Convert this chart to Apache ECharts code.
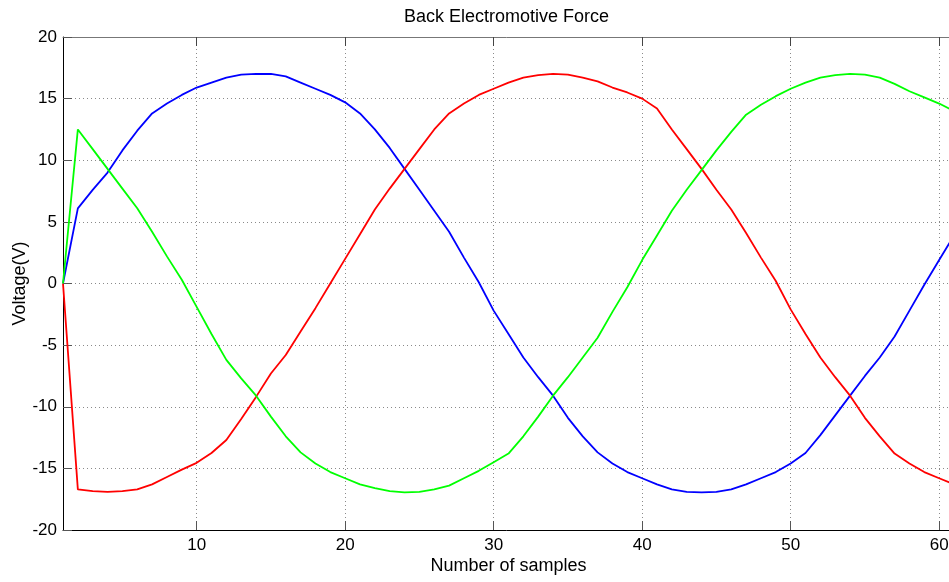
<!DOCTYPE html>
<html>
<head>
<meta charset="utf-8">
<script src="https://cdn.jsdelivr.net/npm/echarts@6/dist/echarts.min.js"></script>
<style>
html,body{margin:0;padding:0;background:#fff;}
#chart{width:949px;height:582px;}
</style>
</head>
<body>
<div id="chart"></div>
<script>
const samples = [];
for (let i = 1; i <= 61; i++) samples.push(i);

const blueValues = [0, 6.1, 7.6, 9.0, 10.8, 12.4, 13.8, 14.6, 15.3, 15.9,
  16.3, 16.7, 16.95, 17.0, 17.0, 16.8, 16.3, 15.8, 15.3, 14.7,
  13.8, 12.5, 11.0, 9.3, 7.6, 5.9, 4.2, 2.1, 0.1, -2.2,
  -4.1, -6.0, -7.6, -9.1, -10.9, -12.4, -13.7, -14.6, -15.3, -15.8,
  -16.3, -16.7, -16.9, -16.95, -16.9, -16.7, -16.3, -15.8, -15.3, -14.6,
  -13.75, -12.3, -10.7, -9.1, -7.5, -6.0, -4.3, -2.2, -0.1, 1.9, 3.9];

const redValues = [0, -16.7, -16.85, -16.9, -16.85, -16.7, -16.3, -15.7, -15.1, -14.55,
  -13.75, -12.7, -11.0, -9.2, -7.3, -5.8, -3.9, -2.0, 0.0, 2.0,
  4.0, 6.0, 7.7, 9.3, 10.9, 12.5, 13.8, 14.6, 15.3, 15.8,
  16.3, 16.7, 16.9, 17.0, 16.95, 16.7, 16.4, 15.9, 15.5, 15.0,
  14.2, 12.5, 10.9, 9.3, 7.6, 6.0, 4.1, 2.1, 0.2, -2.1,
  -4.1, -6.0, -7.6, -9.1, -10.9, -12.4, -13.8, -14.6, -15.3, -15.8, -16.3];

const greenValues = [0, 12.5, 10.9, 9.3, 7.7, 6.1, 4.2, 2.2, 0.3, -1.9,
  -4.1, -6.2, -7.7, -9.1, -10.8, -12.4, -13.7, -14.6, -15.3, -15.8,
  -16.3, -16.6, -16.85, -16.95, -16.9, -16.7, -16.4, -15.8, -15.2, -14.5,
  -13.8, -12.4, -10.8, -9.1, -7.6, -6.0, -4.4, -2.3, -0.3, 1.9,
  3.9, 5.9, 7.6, 9.2, 10.8, 12.3, 13.7, 14.5, 15.2, 15.8,
  16.3, 16.7, 16.9, 17.0, 16.95, 16.7, 16.2, 15.6, 15.1, 14.6, 14.0];

const xTicks = [10, 20, 30, 40, 50, 60];
const yTicks = [-20, -15, -10, -5, 0, 5, 10, 15, 20];

const titleText = 'Back Electromotive Force';
const xName = 'Number of samples';
const yName = 'Voltage(V)';

const FONT = 'Liberation Sans, Arial, Helvetica, sans-serif';

function pairs(vals) { return samples.map((s, i) => [s, vals[i]]); }

const chart = echarts.init(document.getElementById('chart'), null, {renderer: 'canvas'});
const dotted = {color: '#8a8a8a', width: 1, type: [1, 3]};

const option = {
  backgroundColor: '#ffffff',
  animation: false,
  title: {
    text: titleText,
    left: 399, top: 3,
    textStyle: {fontFamily: FONT, fontSize: 18, fontWeight: 'normal', color: '#000'}
  },
  grid: {left: 63, right: -5, top: 37, bottom: 52, containLabel: false, outerBoundsMode: 'none'},
  xAxis: [{
    type: 'value', min: 1, max: 61, position: 'bottom',
    name: xName, nameLocation: 'middle', nameGap: 27, nameMoveOverlap: false,
    nameTextStyle: {fontFamily: FONT, fontSize: 18, color: '#000'},
    axisLine: {show: true, onZero: false, lineStyle: {color: '#000', width: 1}},
    axisTick: {show: true, inside: true, length: 9, customValues: xTicks, lineStyle: {color: '#555'}},
    axisLabel: {show: true, customValues: xTicks, margin: 7, fontFamily: FONT, fontSize: 17, color: '#000'},
    splitLine: {show: true, lineStyle: dotted}
  }, {
    type: 'value', min: 1, max: 61, position: 'top',
    axisLine: {show: true, onZero: false, lineStyle: {color: '#777', width: 1}},
    axisTick: {show: true, inside: true, length: 9, customValues: xTicks, lineStyle: {color: '#444'}},
    axisLabel: {show: false},
    splitLine: {show: false}
  }],
  yAxis: [{
    type: 'value', min: -20, max: 20, interval: 5, position: 'left',
    name: yName, nameLocation: 'middle', nameGap: 34, nameRotate: 90, nameMoveOverlap: false,
    nameTextStyle: {fontFamily: FONT, fontSize: 18, color: '#000'},
    axisLine: {show: true, onZero: false, lineStyle: {color: '#000', width: 1}},
    axisTick: {show: true, inside: true, length: 9, lineStyle: {color: '#555'}},
    axisLabel: {show: true, margin: 6, fontFamily: FONT, fontSize: 17, color: '#000',
      formatter: v => yTicks.indexOf(v) >= 0 ? String(v) : ''},
    splitLine: {show: true, lineStyle: dotted}
  }],
  series: [
    {name: 'Phase A', type: 'line', data: pairs(blueValues), xAxisIndex: 0, yAxisIndex: 0,
      symbol: 'none', lineStyle: {color: '#0000ff', width: 1.8}, itemStyle: {color: '#0000ff'}},
    {name: 'Phase B', type: 'line', data: pairs(redValues), xAxisIndex: 0, yAxisIndex: 0,
      symbol: 'none', lineStyle: {color: '#ff0000', width: 1.8}, itemStyle: {color: '#ff0000'}},
    {name: 'Phase C', type: 'line', data: pairs(greenValues), xAxisIndex: 0, yAxisIndex: 0,
      symbol: 'none', lineStyle: {color: '#00ff00', width: 1.8}, itemStyle: {color: '#00ff00'}}
  ]
};
chart.setOption(option);
</script>
</body>
</html>
